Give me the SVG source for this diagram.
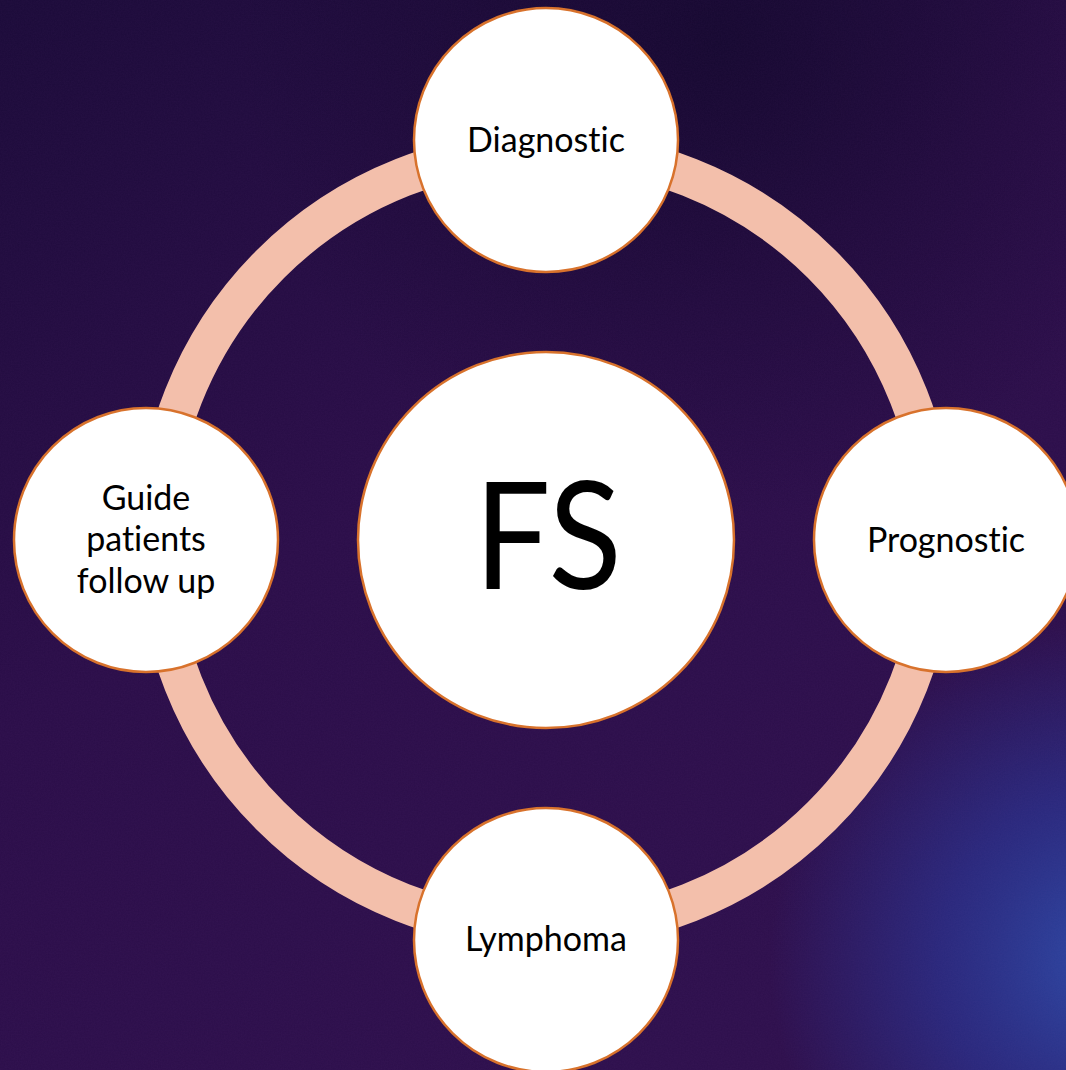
<svg xmlns="http://www.w3.org/2000/svg" width="1066" height="1070" viewBox="0 0 1066 1070">
  <defs>
    <linearGradient id="bgBase" x1="0" y1="0" x2="0.6" y2="1">
      <stop offset="0" stop-color="#1a0a38"/>
      <stop offset="0.5" stop-color="#2a0d48"/>
      <stop offset="1" stop-color="#2d0f4c"/>
    </linearGradient>
    <radialGradient id="blueGlow" cx="1110" cy="960" r="340" gradientUnits="userSpaceOnUse">
      <stop offset="0" stop-color="#2c4aa6" stop-opacity="1"/>
      <stop offset="0.5" stop-color="#28308c" stop-opacity="0.75"/>
      <stop offset="1" stop-color="#28308c" stop-opacity="0"/>
    </radialGradient>
    <radialGradient id="topShade" cx="720" cy="40" r="480" gradientUnits="userSpaceOnUse">
      <stop offset="0" stop-color="#0f0628" stop-opacity="0.7"/>
      <stop offset="1" stop-color="#0f0628" stop-opacity="0"/>
    </radialGradient>
    <filter id="grain" x="0" y="0" width="100%" height="100%">
      <feTurbulence type="fractalNoise" baseFrequency="0.7" numOctaves="2" seed="7" result="n"/>
      <feColorMatrix in="n" type="matrix" values="0 0 0 0 0.5  0 0 0 0 0.2  0 0 0 0 0.65  0 0 0 0.05 0"/>
    </filter>
    <style>
      .ring { fill: none; stroke: #f3bfab; stroke-width: 39; }
      .bubble { fill: #ffffff; stroke: #d8722c; stroke-width: 2.5; }
      .label { font-family: Lato, "Liberation Sans", sans-serif; font-size: 34px; fill: #000000; text-anchor: middle; font-variant-ligatures: none; }
      .hub { font-family: Lato, "Liberation Sans", sans-serif; font-size: 150px; fill: #000000; text-anchor: middle; font-variant-ligatures: none; }
    </style>
  </defs>

  <!-- background -->
  <rect width="1066" height="1070" fill="url(#bgBase)"/>
  <rect width="1066" height="1070" fill="url(#topShade)"/>
  <rect width="1066" height="1070" fill="url(#blueGlow)"/>
  <rect width="1066" height="1070" filter="url(#grain)"/>

  <!-- connectors: ring linking the four outer nodes -->
  <g id="connectors">
    <circle class="ring" cx="546" cy="540" r="390"/>
  </g>

  <g id="node-fs">
    <circle class="bubble" cx="546" cy="540" r="188"/>
    <text class="hub" transform="translate(548 589) scale(0.9 1)" x="0" y="0">FS</text>
  </g>

  <g id="node-diagnostic">
    <circle class="bubble" cx="546" cy="140" r="132"/>
    <text class="label" x="546" y="152">Diagnostic</text>
  </g>

  <g id="node-prognostic">
    <circle class="bubble" cx="946" cy="540" r="132"/>
    <text class="label" x="946" y="552">Prognostic</text>
  </g>

  <g id="node-lymphoma">
    <circle class="bubble" cx="546" cy="940" r="132"/>
    <text class="label" x="546" y="951">Lymphoma</text>
  </g>

  <g id="node-follow-up">
    <circle class="bubble" cx="146" cy="540" r="132"/>
    <text class="label" x="146" y="510">Guide</text>
    <text class="label" x="146" y="551">patients</text>
    <text class="label" x="146" y="593">follow up</text>
  </g>
</svg>
